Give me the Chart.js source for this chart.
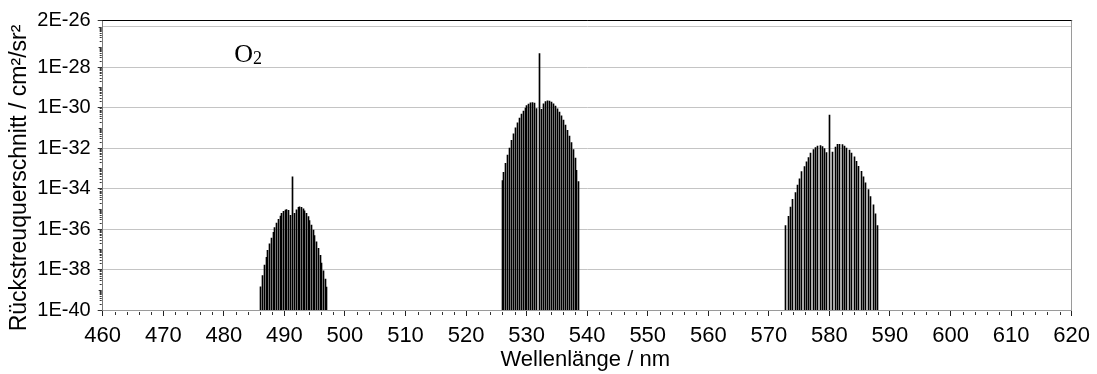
<!DOCTYPE html>
<html>
<head>
<meta charset="utf-8">
<script src="https://cdn.jsdelivr.net/npm/chart.js@4.4.1/dist/chart.umd.min.js"></script>
<style>
  html, body { margin: 0; padding: 0; background: #fff; }
  #wrap { position: relative; width: 1097px; height: 374px; }
</style>
</head>
<body>
<div id="wrap"><canvas id="c"></canvas></div>
<script>
// Raman backscatter cross sections of O2: rotational lines around the
// anti-Stokes band (491 nm), the Rayleigh/rotational band (532 nm)
// and the Stokes vibrational band (580 nm), plus the central Q lines.

const band491Lambda = [486.12, 486.41, 486.70, 486.98, 487.27, 487.56, 487.84, 488.13, 488.42, 488.70,
  488.99, 489.28, 489.57, 489.85, 490.14, 490.43, 490.71, 491.00,
  491.70, 491.98, 492.26, 492.54, 492.82, 493.10, 493.38, 493.66, 493.94, 494.22,
  494.50, 494.77, 495.05, 495.33, 495.61, 495.89, 496.17, 496.45, 496.73, 497.01];
const band491Sigma = [1.41e-39, 5.0e-39, 1.66e-38, 4.0e-38, 8.9e-38, 1.86e-37, 3.6e-37, 6.8e-37, 1.17e-36, 1.95e-36,
  3.0e-36, 4.4e-36, 5.9e-36, 7.4e-36, 8.7e-36, 9.1e-36, 8.3e-36, 4.7e-36,
  5.9e-36, 8.9e-36, 1.17e-35, 1.26e-35, 1.17e-35, 1.0e-35, 7.9e-36, 5.9e-36, 4.1e-36, 2.6e-36,
  1.58e-36, 8.9e-37, 4.7e-37, 2.3e-37, 1.12e-37, 5.0e-38, 2.1e-38, 8.5e-39, 3.4e-39, 1.35e-39];

const band532Lambda = [525.94, 526.26, 526.57, 526.89, 527.21, 527.52, 527.84, 528.16, 528.47, 528.79,
  529.11, 529.42, 529.74, 530.06, 530.37, 530.69, 531.01, 531.32, 531.64,
  532.46, 532.79, 533.11, 533.44, 533.76, 534.09, 534.42, 534.74, 535.07, 535.39,
  535.72, 536.04, 536.37, 536.70, 537.02, 537.35, 537.67, 538.00, 538.32, 538.65];
const band532Sigma = [2.5e-34, 6.3e-34, 1.74e-33, 4.5e-33, 1.0e-32, 2.4e-32, 5.0e-32, 1.0e-31, 1.78e-31, 3.0e-31,
  4.7e-31, 6.8e-31, 9.5e-31, 1.26e-30, 1.48e-30, 1.70e-30, 1.78e-30, 1.66e-30, 8.9e-31,
  8.3e-31, 1.51e-30, 1.95e-30, 2.14e-30, 2.09e-30, 1.86e-30, 1.55e-30, 1.20e-30, 8.7e-31, 6.0e-31,
  3.9e-31, 2.4e-31, 1.38e-31, 7.6e-32, 3.9e-32, 1.86e-32, 8.3e-33, 3.2e-33, 7.9e-34, 2.2e-34];

const band580Lambda = [572.81, 573.19, 573.56, 573.94, 574.32, 574.69, 575.07, 575.45, 575.82, 576.20,
  576.58, 576.95, 577.33, 577.71, 578.08, 578.46, 578.84, 579.21, 579.59,
  580.55, 580.94, 581.33, 581.73, 582.12, 582.51, 582.90, 583.30, 583.69, 584.08,
  584.47, 584.86, 585.26, 585.65, 586.04, 586.43, 586.82, 587.22, 587.61, 588.00];
const band580Sigma = [1.48e-36, 4.2e-36, 1.20e-35, 2.95e-35, 6.3e-35, 1.48e-34, 3.0e-34, 6.8e-34, 1.20e-33, 2.1e-33,
  3.4e-33, 5.6e-33, 8.3e-33, 1.07e-32, 1.26e-32, 1.32e-32, 1.17e-32, 9.5e-33, 6.0e-33,
  6.3e-33, 1.12e-32, 1.51e-32, 1.51e-32, 1.48e-32, 1.26e-32, 1.0e-32, 7.9e-33, 5.6e-33, 3.7e-33,
  2.2e-33, 1.26e-33, 7.1e-34, 3.8e-34, 1.91e-34, 8.9e-35, 4.0e-35, 1.58e-35, 5.6e-36, 1.48e-36];

// central Q-branch lines
const qLambda = [491.35, 532.05, 580.07];
const qSigma = [3.8e-34, 4.7e-28, 4.3e-31];

const xMin = 460, xMax = 620, xStep = 10, xMinorStep = 2;
const yTickValues = [1e-40, 1e-38, 1e-36, 1e-34, 1e-32, 1e-30, 1e-28, 1e-26, 2e-26];
const yTickLabels = ['1E-40', '1E-38', '1E-36', '1E-34', '1E-32', '1E-30', '1E-28', '', '2E-26'];

const xTitle = 'Wellenlänge / nm';
const yTitle = 'Rückstreuquerschnitt / cm²/sr²';
const speciesMain = 'O';
const speciesSub = '2';

const FONT = '"Liberation Sans", Arial, Helvetica, sans-serif';
const SERIF = '"Liberation Serif", "Times New Roman", serif';

const lines = [];
[[band491Lambda, band491Sigma], [band532Lambda, band532Sigma],
 [band580Lambda, band580Sigma], [qLambda, qSigma]].forEach(([lam, sig]) => {
  lam.forEach((v, i) => lines.push({ x: v, y: sig[i] }));
});
lines.sort((a, b) => a.x - b.x);

const decor = {
  id: 'decor',
  afterDatasetsUpdate(chart) {
    // snap each 1px line to the pixel grid so it stays crisp
    chart.getDatasetMeta(0).data.forEach(el => { el.x = Math.round(el.x - 0.5) + 0.5; });
  },
  afterDraw(chart) {
    const { ctx, chartArea: a, scales: { x, y } } = chart;
    ctx.save();
    // frame: black top edge, grey right edge
    ctx.lineWidth = 1;
    ctx.strokeStyle = '#000';
    ctx.beginPath();
    ctx.moveTo(a.left - 0.5, Math.floor(a.top) + 0.5);
    ctx.lineTo(a.right + 0.5, Math.floor(a.top) + 0.5);
    ctx.stroke();
    ctx.strokeStyle = '#9a9a9a';
    ctx.beginPath();
    ctx.moveTo(Math.floor(a.right) + 0.5, a.top);
    ctx.lineTo(Math.floor(a.right) + 0.5, a.bottom);
    ctx.stroke();

    // minor ticks on the log axis
    ctx.strokeStyle = '#333';
    for (let e = -40; e <= -27; e++) {
      for (let m = 1; m <= 9; m++) {
        const v = m * Math.pow(10, e);
        if (m === 1 && e % 2 === 0) continue;
        const py = Math.round(y.getPixelForValue(v)) + 0.5;
        const len = m === 1 ? 3 : 2;
        ctx.beginPath();
        ctx.moveTo(a.left - len - 1, py);
        ctx.lineTo(a.left - 1, py);
        ctx.stroke();
      }
    }
    {
      const py = Math.round(y.getPixelForValue(1e-26)) + 0.5;
      ctx.beginPath();
      ctx.moveTo(a.left - 4, py);
      ctx.lineTo(a.left - 1, py);
      ctx.stroke();
    }
    // minor ticks on the wavelength axis
    for (let v = xMin + xMinorStep; v < xMax; v += xMinorStep) {
      if (v % xStep === 0) continue;
      const px = Math.round(x.getPixelForValue(v)) + 0.5;
      ctx.beginPath();
      ctx.moveTo(px, a.bottom + 2);
      ctx.lineTo(px, a.bottom + 5);
      ctx.stroke();
    }

    // axis titles
    ctx.fillStyle = '#000';
    ctx.font = '22px ' + FONT;
    ctx.textAlign = 'center';
    ctx.textBaseline = 'alphabetic';
    ctx.fillText(xTitle, (a.left + a.right) / 2 - 2, 366);

    ctx.save();
    ctx.translate(26, 178);
    ctx.rotate(-Math.PI / 2);
    ctx.font = '23px ' + FONT;
    ctx.fillText(yTitle, 0, 0);
    ctx.restore();

    // species label
    ctx.textAlign = 'left';
    ctx.font = '26px ' + SERIF;
    ctx.fillText(speciesMain, a.left + 131.5, a.top + 41.5);
    const w = ctx.measureText(speciesMain).width;
    ctx.font = '18px ' + SERIF;
    ctx.fillText(speciesSub, a.left + 131.5 + w, a.top + 43);
    ctx.restore();
  }
};

new Chart(document.getElementById('c'), {
  type: 'bar',
  data: {
    datasets: [{
      data: lines,
      backgroundColor: '#000',
      borderWidth: 0,
      barThickness: 1,
      grouped: false
    }]
  },
  options: {
    responsive: true,
    maintainAspectRatio: false,
    animation: false,
    events: [],
    layout: { padding: { top: 20.5, right: 24.4, left: 0, bottom: 0 } },
    plugins: { legend: { display: false }, tooltip: { enabled: false } },
    scales: {
      x: {
        type: 'linear',
        min: xMin,
        max: xMax,
        offset: false,
        afterFit: s => { s.height = 64; },
        ticks: {
          stepSize: xStep,
          autoSkip: false,
          maxRotation: 0,
          padding: 7,
          color: '#000',
          font: { family: FONT, size: 22 }
        },
        grid: {
          offset: false,
          drawOnChartArea: false,
          drawTicks: true,
          tickLength: 6,
          tickColor: '#222'
        },
        border: { display: true, color: '#9a9a9a' }
      },
      y: {
        type: 'logarithmic',
        min: 1e-40,
        max: 2e-26,
        afterFit: s => { s.width = 102.7; },
        afterBuildTicks: s => { s.ticks = yTickValues.map(v => ({ value: v })); },
        ticks: {
          autoSkip: false,
          padding: 7,
          color: '#000',
          font: { family: FONT, size: 20 },
          callback: (v, i) => yTickLabels[i]
        },
        grid: {
          drawTicks: true,
          tickLength: 5,
          lineWidth: 1,
          color: c => {
            const v = c.tick && c.tick.value;
            return (v === 1e-40 || v === 2e-26) ? 'rgba(0,0,0,0)' : '#c4c4c4';
          },
          tickColor: c => (c.tick && c.tick.value === 1e-26) ? 'rgba(0,0,0,0)' : '#333'
        },
        border: { display: true, color: '#7a7a7a' }
      }
    }
  },
  plugins: [decor]
});
</script>
</body>
</html>
